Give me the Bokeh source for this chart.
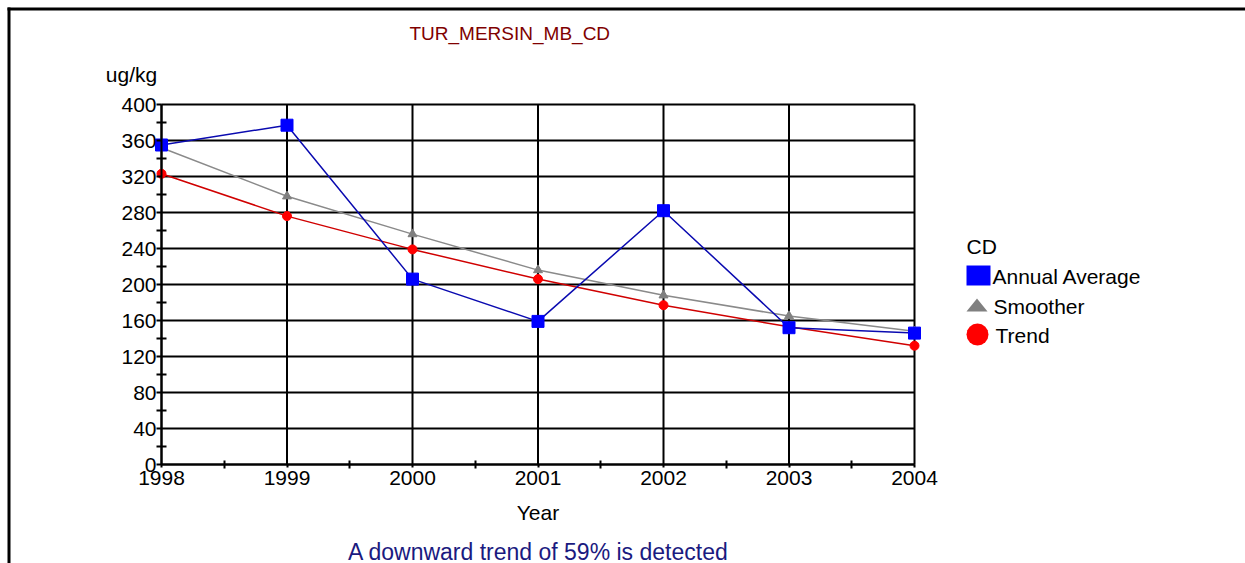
from bokeh.plotting import figure
from bokeh.models import Range1d, FixedTicker, Label, BoxAnnotation, PolyAnnotation
from bokeh.embed import file_html
from bokeh.resources import INLINE
import math

# ---- data ----
years = [1998, 1999, 2000, 2001, 2002, 2003, 2004]
year_labels = ["1998", "1999", "2000", "2001", "2002", "2003", "2004"]
annual_average = [355, 377, 206, 159, 282, 152, 146]
smoother = [352, 298, 256, 216, 188, 165, 148]
trend = [323, 276, 239, 206, 177, 153, 132]
y_ticks = [0, 40, 80, 120, 160, 200, 240, 280, 320, 360, 400]
y_minor = [20, 60, 100, 140, 180, 220, 260, 300, 340, 380]
x_minor = [1998.5, 1999.5, 2000.5, 2001.5, 2002.5, 2003.5]

title_text = "TUR_MERSIN_MB_CD"
y_unit = "ug/kg"
x_title = "Year"
legend_title = "CD"
series_names = ["Annual Average", "Smoother", "Trend"]
footer_text = "A downward trend of 59% is detected"

FONT = "Liberation Sans"
FS = "21px"

# ---- layout (pixels) ----
W, H = 1245, 563
PX_X0, PX_X1 = 161, 914      # 1998 .. 2004
PX_Y0, PX_Y1 = 464, 104      # 0 .. 400
SX = (PX_X1 - PX_X0) / 6.0
SY = (PX_Y0 - PX_Y1) / 400.0
TEXT_DY = 9                  # renderer places alphabetic baseline lower

def xd(px):
    return 1998 + (px - PX_X0) / SX

def yd(py):
    return (PX_Y0 - py) / SY

# frame covers the whole canvas; axes are pinned with fixed_location
p = figure(width=W, height=H, output_backend="svg", toolbar_location=None,
           x_range=Range1d(xd(0), xd(W)), y_range=Range1d(yd(H), yd(0)),
           min_border=0)
p.outline_line_color = None
p.background_fill_color = "white"
p.border_fill_color = "white"
p.xgrid.visible = False
p.ygrid.visible = False

# axes
xa = p.xaxis[0]
xa.ticker = FixedTicker(ticks=years, minor_ticks=x_minor)
xa.major_label_overrides = {y: l for y, l in zip(years, year_labels)}
xa.fixed_location = 0
xa.bounds = (years[0], years[-1])
xa.axis_line_width = 2
xa.axis_line_color = "black"
xa.major_tick_in = 0
xa.major_tick_out = 3
xa.minor_tick_in = 4
xa.minor_tick_out = 4
xa.major_tick_line_width = 2
xa.minor_tick_line_width = 2
xa.major_label_standoff = 2
xa.major_label_text_font = FONT
xa.major_label_text_font_size = FS
xa.major_label_text_color = "black"

ya = p.yaxis[0]
ya.ticker = FixedTicker(ticks=y_ticks, minor_ticks=y_minor)
ya.fixed_location = years[0]
ya.bounds = (y_ticks[0], y_ticks[-1])
ya.axis_line_width = 2
ya.axis_line_color = "black"
ya.major_tick_in = 0
ya.major_tick_out = 5
ya.minor_tick_in = 5
ya.minor_tick_out = 5
ya.major_tick_line_width = 2
ya.minor_tick_line_width = 2
ya.major_label_standoff = 0
ya.major_label_text_font = FONT
ya.major_label_text_font_size = FS
ya.major_label_text_color = "black"

# grid lines from tick arrays
p.segment(x0=years, y0=[y_ticks[0]] * len(years), x1=years, y1=[y_ticks[-1]] * len(years),
          line_color="black", line_width=2)
p.segment(x0=[years[0]] * len(y_ticks), y0=y_ticks, x1=[years[-1]] * len(y_ticks), y1=y_ticks,
          line_color="black", line_width=2)

# series
p.line(years, smoother, line_color="#8a8a8a", line_width=1.5)
p.scatter(years, smoother, marker="triangle", size=9, fill_color="#808080", line_color="#808080")
p.line(years, trend, line_color="#d00000", line_width=1.5)
p.scatter(years, trend, marker="circle", size=9, fill_color="#ff0000", line_color="#ff0000")
p.line(years, annual_average, line_color="#0a0ab0", line_width=1.5)
p.scatter(years, annual_average, marker="square", size=12, fill_color="#0000ff", line_color="#0000ff")

# texts
def lab(text, px, py, align="left", color="black", size=FS):
    p.add_layout(Label(x=xd(px), y=yd(py - TEXT_DY), text=text, text_align=align,
                       text_baseline="alphabetic",
                       text_font=FONT, text_font_size=size, text_color=color))

lab(title_text, 409, 42, "left", "#800000", "19px")
lab(y_unit, 131, 83, "center")
lab(x_title, 537.5, 521, "center")
lab(footer_text, 538, 560, "center", "#1a1a80", "23px")
lab(legend_title, 966, 255)
lab(series_names[0], 992, 285)
lab(series_names[1], 993, 315)
lab(series_names[2], 995, 344)

# legend markers
p.add_layout(BoxAnnotation(left=xd(966), right=xd(990), top=yd(265), bottom=yd(285),
                           fill_color="#0000ff", fill_alpha=1, line_alpha=0))
p.add_layout(PolyAnnotation(xs=[xd(976.5), xd(987), xd(966)], ys=[yd(298), yd(311), yd(311)],
                            fill_color="#808080", fill_alpha=1, line_alpha=0))
cx, cy, r = 977, 334, 11
ang = [2 * math.pi * k / 16 for k in range(16)]
p.add_layout(PolyAnnotation(xs=[xd(cx + r * math.cos(a)) for a in ang],
                            ys=[yd(cy + r * math.sin(a)) for a in ang],
                            fill_color="#ff0000", fill_alpha=1, line_alpha=0))

# outer frame lines (top and left)
p.add_layout(BoxAnnotation(left=xd(7), right=xd(W + 5), top=yd(7), bottom=yd(10),
                           fill_color="black", fill_alpha=1, line_alpha=0))
p.add_layout(BoxAnnotation(left=xd(7), right=xd(10), top=yd(7), bottom=yd(H + 5),
                           fill_color="black", fill_alpha=1, line_alpha=0))

open("out.html", "w").write(file_html(p, INLINE))
